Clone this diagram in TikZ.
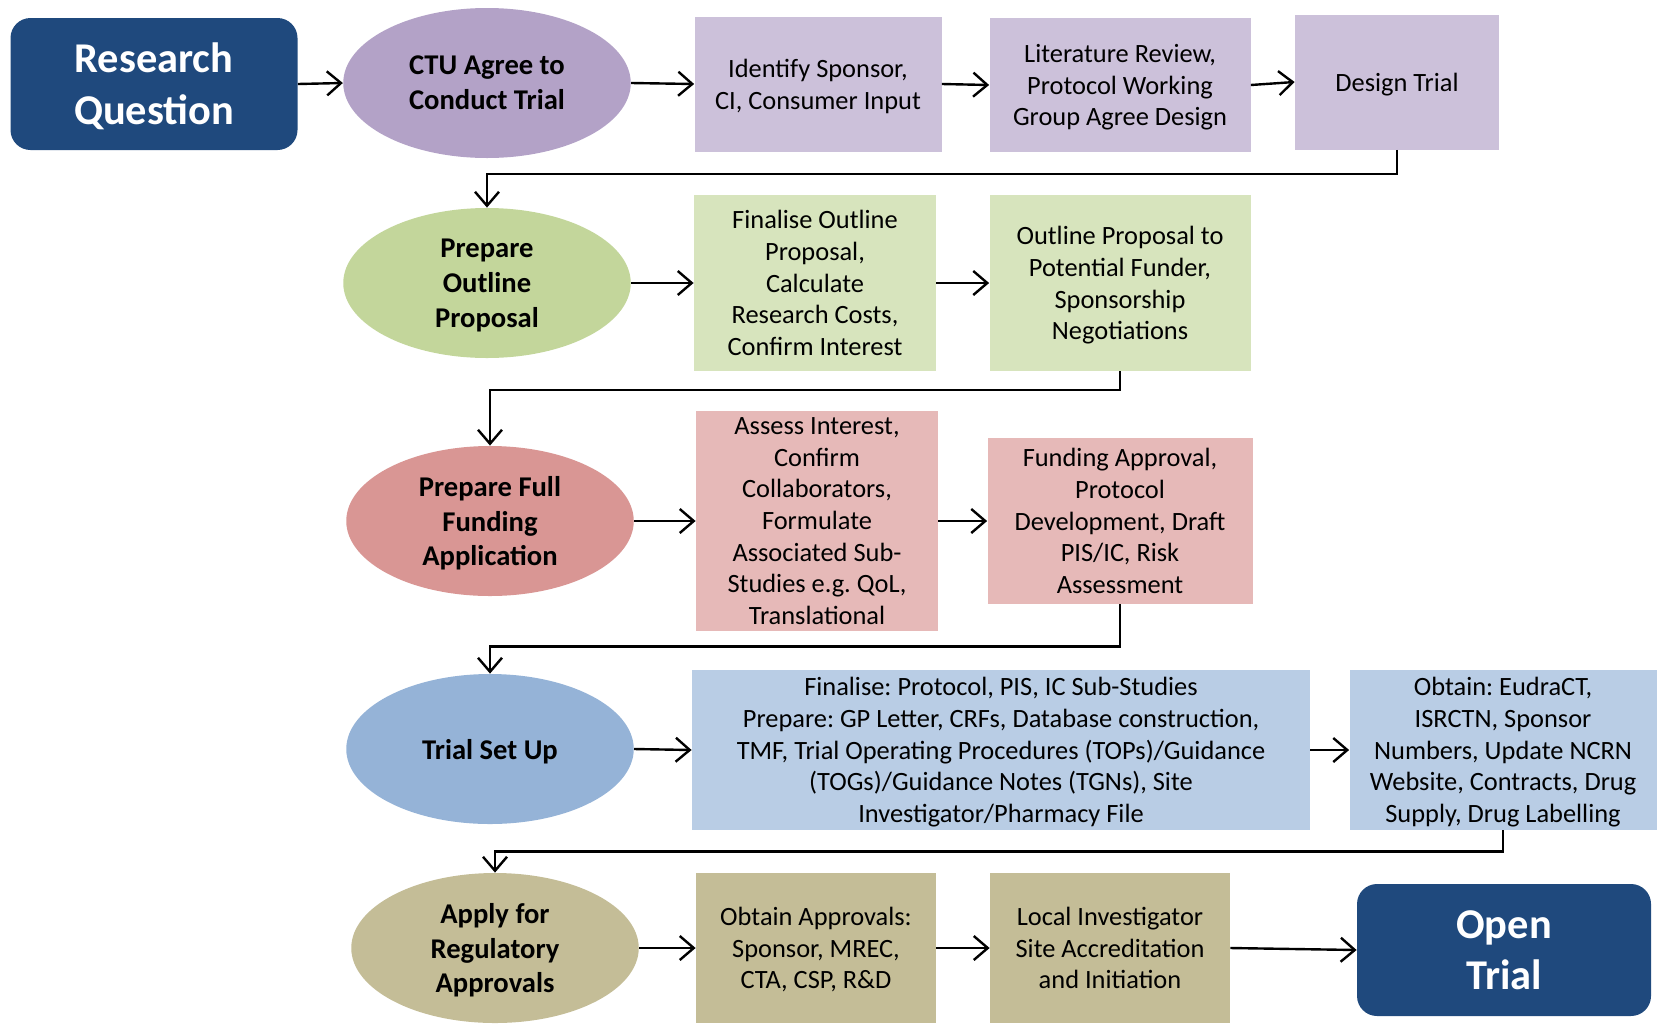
\documentclass[tikz,border=0pt]{standalone}
\usepackage{fontspec}
\setmainfont{Carlito}
\frenchspacing
\usetikzlibrary{shapes.geometric,arrows.meta,positioning}

\definecolor{navy}{HTML}{1F497D}
\definecolor{lilacdark}{HTML}{B3A2C7}
\definecolor{lilac}{HTML}{CCC1DA}
\definecolor{sagedark}{HTML}{C3D69B}
\definecolor{sage}{HTML}{D7E4BD}
\definecolor{rosedark}{HTML}{D99694}
\definecolor{rose}{HTML}{E6B9B8}
\definecolor{skydark}{HTML}{95B3D7}
\definecolor{sky}{HTML}{B9CDE5}
\definecolor{khakidark}{HTML}{C4BD97}
\definecolor{khaki}{HTML}{C4BD97}

\begin{document}
\begin{tikzpicture}[x=0.5pt,y=-0.5pt,>={Straight Barb[length=7pt,width=12pt]},
		flow/.style={->,line width=1.2pt},
		stage/.style={ellipse,minimum width=143.75pt,minimum height=75pt,inner sep=0pt,text depth=0pt,align=center,font=\fontsize{14.3}{17.4}\selectfont\bfseries},
		task/.style={rectangle,inner sep=0pt,text depth=0pt,align=center,font=\fontsize{13.2}{15.85}\selectfont},
		goal/.style={rectangle,rounded corners=10pt,fill=navy,text=white,inner sep=0pt,text depth=0pt,align=center,font=\fontsize{21.2}{25.9}\selectfont\bfseries}]
		\useasboundingbox (0,0) rectangle (1657,1023);
		% first row
		\node[goal,minimum width=143.5pt,minimum height=66pt] (question) at (154,84) {Research\\Question};
		\node[stage,fill=lilacdark] (agree) at (487,83) {CTU Agree to\\Conduct Trial};
		\node[task,fill=lilac,minimum width=123.5pt,minimum height=67.5pt] (sponsor) at (818,84) {Identify Sponsor,\\CI, Consumer Input};
		\node[task,fill=lilac,minimum width=130.5pt,minimum height=67pt] (review) at (1120,85) {Literature Review,\\Protocol Working\\Group Agree Design};
		\node[task,fill=lilac,minimum width=102pt,minimum height=67.5pt] (design) at (1397,82) {Design Trial};
		% second row
		\node[stage,fill=sagedark] (outline) at (487,283) {Prepare\\Outline\\Proposal};
		\node[task,fill=sage,minimum width=121pt,minimum height=87.75pt] (finalise) at (815,283) {Finalise Outline\\Proposal,\\Calculate\\Research Costs,\\Confirm Interest};
		\node[task,fill=sage,minimum width=130.5pt,minimum height=87.75pt] (funder) at (1120,283) {Outline Proposal to\\Potential Funder,\\Sponsorship\\Negotiations};
		% third row
		\node[stage,fill=rosedark] (full) at (490,521) {Prepare Full\\Funding\\Application};
		\node[task,fill=rose,minimum width=121pt,minimum height=110pt] (assess) at (817,521) {Assess Interest,\\Confirm\\Collaborators,\\Formulate\\Associated Sub-\\Studies e.g. QoL,\\Translational};
		\node[task,fill=rose,minimum width=132.5pt,minimum height=83pt] (approval) at (1120,521) {Funding Approval,\\Protocol\\Development, Draft\\PIS/IC, Risk\\Assessment};
		% fourth row
		\node[stage,fill=skydark] (setup) at (490,749) {Trial Set Up};
		\node[task,fill=sky,minimum width=309pt,minimum height=80pt] (prepare) at (1001,750) {Finalise: Protocol, PIS, IC Sub-Studies\\Prepare: GP Letter, CRFs, Database construction,\\TMF, Trial Operating Procedures (TOPs)/Guidance\\(TOGs)/Guidance Notes (TGNs), Site\\Investigator/Pharmacy File};
		\node[task,fill=sky,minimum width=153.5pt,minimum height=80pt] (numbers) at (1503,750) {Obtain: EudraCT,\\ISRCTN, Sponsor\\Numbers, Update NCRN\\Website, Contracts, Drug\\Supply, Drug Labelling};
		% fifth row
		\node[stage,fill=khakidark] (apply) at (495,948) {Apply for\\Regulatory\\Approvals};
		\node[task,fill=khaki,minimum width=120pt,minimum height=75pt] (approvals) at (816,948) {Obtain Approvals:\\Sponsor, MREC,\\CTA, CSP, R\&D};
		\node[task,fill=khaki,minimum width=120pt,minimum height=75pt] (local) at (1110,948) {Local Investigator\\Site Accreditation\\and Initiation};
		\node[goal,minimum width=147pt,minimum height=66pt] (open) at (1504,950) {Open\\Trial};
		% arrows
		\draw[flow] (question.east) -- (agree.west);
		\draw[flow] (agree.east) -- (sponsor.west);
		\draw[flow] (sponsor.east) -- (review.west);
		\draw[flow] (review.east) -- (design.west);
		\draw[flow] (design.south) -- ++(0,24) -| (outline.north);
		\draw[flow] (outline.east) -- (finalise.west);
		\draw[flow] (finalise.east) -- (funder.west);
		\draw[flow] (funder.south) -- ++(0,19) -| (full.north);
		\draw[flow] (full.east) -- (assess.west);
		\draw[flow] (assess.east) -- (approval.west);
		\draw[flow] (approval.south) -- ++(0,42) -| (setup.north);
		\draw[flow] (setup.east) -- (prepare.west);
		\draw[flow] (prepare.east) -- (numbers.west);
		\draw[flow] (numbers.south) -- ++(0,21) -| (apply.north);
		\draw[flow] (apply.east) -- (approvals.west);
		\draw[flow] (approvals.east) -- (local.west);
		\draw[flow] (local.east) -- (open.west);
	\end{tikzpicture}
\end{document}
